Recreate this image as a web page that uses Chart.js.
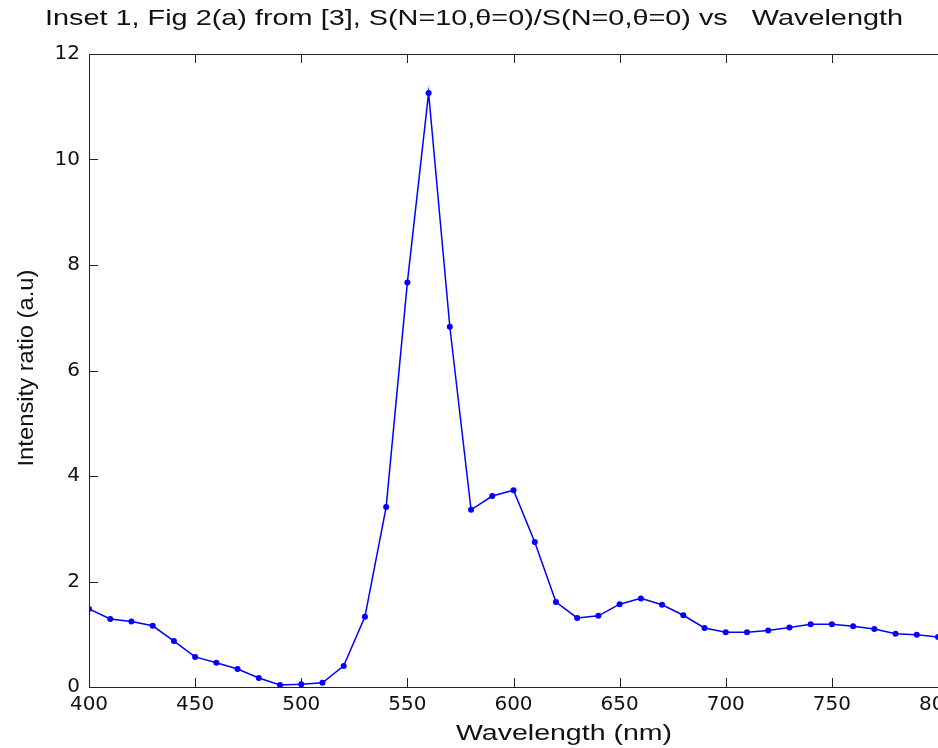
<!DOCTYPE html>
<html>
<head>
<meta charset="utf-8">
<script src="https://cdn.jsdelivr.net/npm/chart.js@4/dist/chart.umd.min.js"></script>
<style>
  html, body { margin: 0; padding: 0; background: #fff; overflow: hidden; }
  #wrap { width: 938px; height: 748px; overflow: hidden; position: relative; }
  canvas { display: block; }
</style>
</head>
<body>
<div id="wrap"><canvas id="c" width="1000" height="748"></canvas></div>
<script>
const titleText = "Inset 1, Fig 2(a) from [3], S(N=10,\u03b8=0)/S(N=0,\u03b8=0) vs   Wavelength";
const xAxisTitle = "Wavelength (nm)";
const yAxisTitle = "Intensity ratio (a.u)";

const wavelengths = [400,410,420,430,440,450,460,470,480,490,500,510,520,530,540,550,560,570,580,590,600,610,620,630,640,650,660,670,680,690,700,710,720,730,740,750,760,770,780,790,800];
const ratios = [1.48,1.29,1.24,1.16,0.87,0.57,0.46,0.34,0.17,0.04,0.05,0.08,0.40,1.33,3.41,7.67,11.26,6.83,3.36,3.62,3.73,2.75,1.61,1.31,1.35,1.57,1.68,1.56,1.36,1.12,1.04,1.04,1.07,1.13,1.19,1.19,1.15,1.10,1.01,0.99,0.95];

const xTicks = [400,450,500,550,600,650,700,750,800];
const yTicks = [0,2,4,6,8,10,12];

const TICK_FONT = "'DejaVu Sans', sans-serif";
const TITLE_FONT = "'Liberation Sans', Arial, sans-serif";

function fitText(ctx, text, x, y, targetWidth, size, rotate) {
  ctx.save();
  ctx.font = size + "px " + TITLE_FONT;
  const w = ctx.measureText(text).width;
  ctx.translate(x, y);
  if (rotate) ctx.rotate(-Math.PI / 2);
  ctx.scale(targetWidth / w, 1);
  ctx.textAlign = "center";
  ctx.textBaseline = "middle";
  ctx.fillStyle = "#111";
  ctx.fillText(text, 0, 0);
  ctx.restore();
}

const decor = {
  id: "decor",
  afterDraw(chart) {
    const ctx = chart.ctx;
    const a = chart.chartArea;
    const xs = chart.scales.x, ys = chart.scales.y;
    ctx.save();
    ctx.strokeStyle = "#222";
    ctx.lineWidth = 1;
    ctx.beginPath();
    // top border
    ctx.moveTo(a.left, Math.round(a.top) + 0.5);
    ctx.lineTo(a.right + 2, Math.round(a.top) + 0.5);
    // inward ticks
    xTicks.forEach(v => {
      const px = Math.round(xs.getPixelForValue(v)) + 0.5;
      ctx.moveTo(px, a.bottom); ctx.lineTo(px, a.bottom - 9);
      ctx.moveTo(px, a.top); ctx.lineTo(px, a.top + 9);
    });
    yTicks.forEach(v => {
      const py = Math.round(ys.getPixelForValue(v)) + 0.5;
      ctx.moveTo(a.left, py); ctx.lineTo(a.left + 9, py);
    });
    ctx.stroke();
    ctx.restore();
    fitText(ctx, titleText, 474, 19, 858, 22, false);
    fitText(ctx, xAxisTitle, 564, 734, 216, 22, false);
    fitText(ctx, yAxisTitle, 27, 368, 197, 22, true);
  }
};

new Chart(document.getElementById("c"), {
  type: "line",
  data: {
    datasets: [{
      data: wavelengths.map((w, i) => ({ x: w, y: ratios[i] })),
      borderColor: "#0000ff",
      backgroundColor: "#0000ff",
      borderWidth: 1.5,
      pointRadius: 3,
      pointBorderWidth: 0,
      pointBackgroundColor: "#0000ff",
      tension: 0,
      fill: false
    }]
  },
  options: {
    responsive: false,
    animation: false,
    devicePixelRatio: 1,
    layout: { padding: { left: 0, right: 62, top: 54, bottom: 0 } },
    plugins: { legend: { display: false }, tooltip: { enabled: false }, title: { display: false } },
    scales: {
      x: {
        type: "linear",
        min: 400, max: 800,
        afterBuildTicks(s) { s.ticks = xTicks.map(v => ({ value: v })); },
        afterFit(s) { s.height = 61; },
        grid: { display: false, drawTicks: false },
        border: { display: true, color: "#222", width: 1 },
        ticks: { color: "#111", font: { family: TICK_FONT, size: 20 }, padding: 6, maxRotation: 0, autoSkip: false }
      },
      y: {
        type: "linear",
        min: 0, max: 12,
        afterBuildTicks(s) { s.ticks = yTicks.map(v => ({ value: v })); },
        afterFit(s) { s.width = 89; },
        grid: { display: false, drawTicks: false },
        border: { display: true, color: "#222", width: 1 },
        ticks: { color: "#111", font: { family: TICK_FONT, size: 20 }, padding: 9, autoSkip: false }
      }
    }
  },
  plugins: [decor]
});
</script>
</body>
</html>
